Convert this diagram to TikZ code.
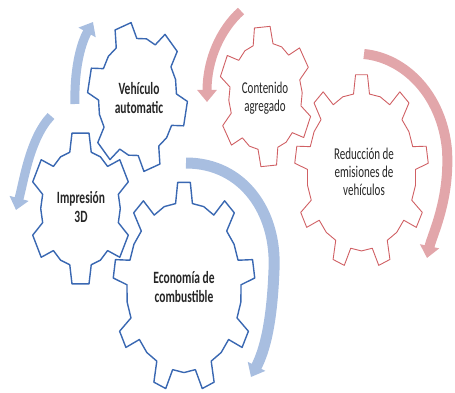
\documentclass[tikz,border=0pt]{standalone}
\usepackage{fontspec}
\setmainfont{Carlito}
\usetikzlibrary{arrows.meta}
\definecolor{gearblue}{RGB}{58,104,178}
\definecolor{gearred}{RGB}{208,96,100}
\definecolor{arrblue}{RGB}{168,190,224}
\definecolor{arrred}{RGB}{226,166,170}
% #1 style, #2 cx, #3 cy, #4 yscale, #5 teeth, #6 rotation, #7 root radius, #8 tip radius, #9 root half angle
\newcommand\geardraw[9]{%
  \begin{scope}[shift={(#2,#3)}, yscale=#4]
    \draw[#1] ({#6+#9}:#7)
      \foreach \k in {1,...,#5}{
        -- ({#6+360*\k/#5-180/#5}:{#7+0.8})
        -- ({#6+360*\k/#5-#9}:#7) -- ({#6+360*\k/#5-0.6*#9}:#8)
        -- ({#6+360*\k/#5+0.6*#9}:#8) -- ({#6+360*\k/#5+#9}:#7)
      } -- cycle;
  \end{scope}}
\tikzset{
  bluegear/.style={draw=gearblue, line width=1.4pt, fill=white, line join=round},
  redgear/.style={draw=gearred, line width=0.9pt, fill=white, line join=round},
  bluearrow/.style={draw=arrblue, line width=9pt, -{Triangle[width=19pt,length=12pt]}},
  redarrow/.style={draw=arrred, line width=9pt, -{Triangle[width=19pt,length=12pt]}},
  boldtxt/.style={font=\fontsize{11.5}{13}\selectfont\bfseries, align=center, yscale=1.5, text=black!85},
  regtxt/.style={font=\fontsize{11}{12}\selectfont, align=center, yscale=1.5, text=black!85}
}
\begin{document}
\begin{tikzpicture}[x=1pt,y=-1pt]
\useasboundingbox (0,0) rectangle (455,393);
% circular arrows
\draw[bluearrow] (75,104) .. controls (74,72) and (80,45) .. (93,22);
\draw[bluearrow] (51,116) .. controls (30,138) and (24,180) .. (16,210);
\draw[bluearrow, line width=11pt] (186,163) .. controls (243,163) and (277,212) .. (274,270)
   .. controls (272,322) and (265,350) .. (251,377);
\draw[redarrow] (241,11) .. controls (220,30) and (207,60) .. (207,102);
\draw[redarrow, line width=10pt] (364,54) .. controls (405,58) and (442,95) .. (447,150)
   .. controls (450,200) and (432,235) .. (427,258);
% gears
\geardraw{bluegear}{137.5}{97}{1.5}{6}{13}{39}{50}{16}
\geardraw{bluegear}{80.5}{208.5}{1.5}{6}{30}{39}{51}{16}
\geardraw{bluegear}{184}{287}{1.48}{9}{30}{57}{71}{8.5}
\geardraw{redgear}{265.5}{96.5}{1.5}{6}{26}{36}{47}{16}
\geardraw{redgear}{361.5}{171.5}{1.45}{9}{30}{54}{67}{8.5}
% labels
\node[boldtxt] (veh) at (139,98) {Vehículo\\automatic};
\node[boldtxt] (imp) at (81,207) {Impresión\\3D};
\node[boldtxt] (eco) at (184,287) {Economía de\\combustible};
\node[regtxt] (cont) at (265,98) {Contenido\\agregado};
\node[regtxt] (red) at (364,172) {Reducción de\\emisiones de\\vehículos};
\end{tikzpicture}
\end{document}
